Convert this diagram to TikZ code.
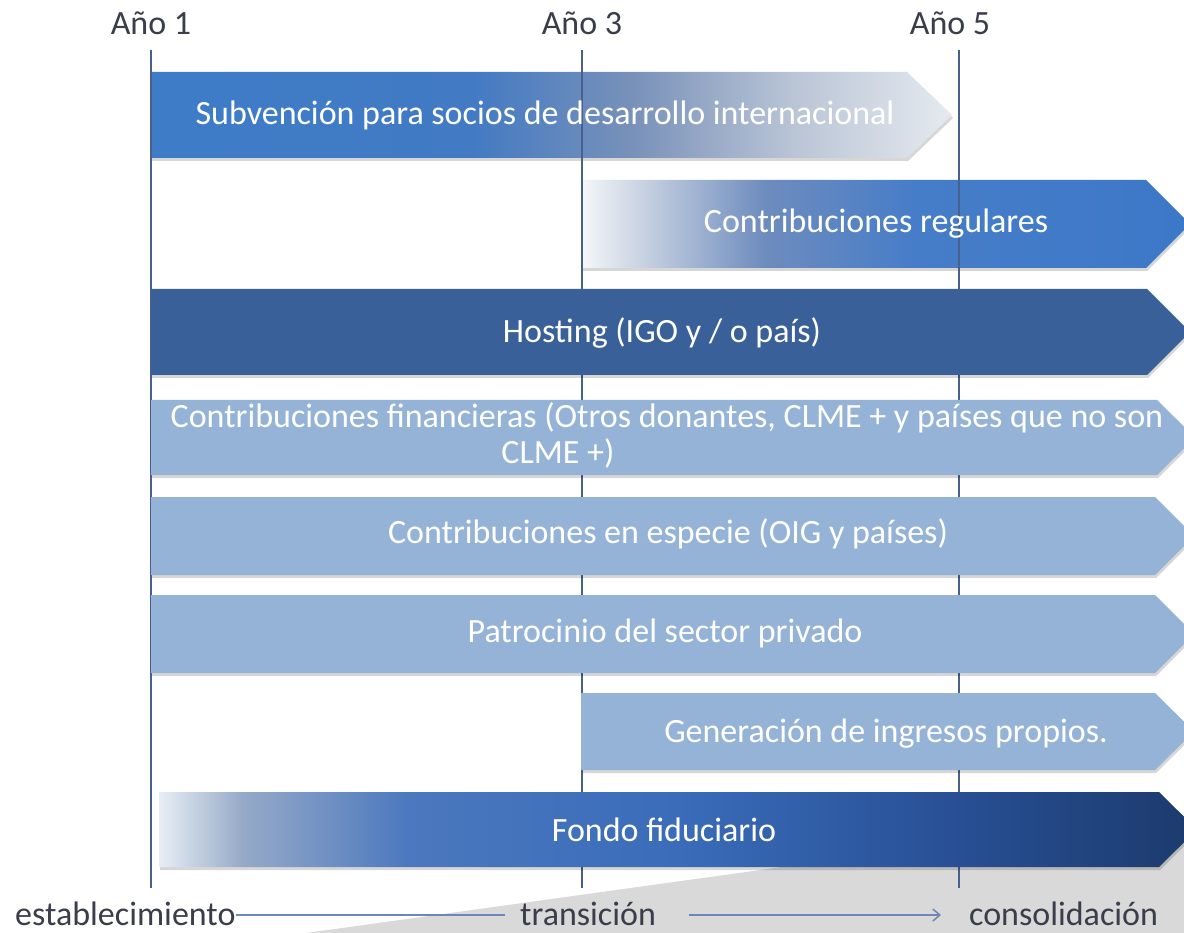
\documentclass[tikz,border=0pt]{standalone}
\usepackage{fontspec}
\setmainfont{Carlito}
\usetikzlibrary{arrows.meta}

\definecolor{vline}{RGB}{72,96,140}
\definecolor{hostc}{RGB}{57,96,152}
\definecolor{lightc}{RGB}{149,179,215}
\definecolor{labc}{RGB}{58,62,74}
\definecolor{connc}{RGB}{110,135,180}
\definecolor{grayc}{RGB}{217,217,217}

\definecolor{sA}{RGB}{62,124,200}
\definecolor{sB}{RGB}{66,122,195}
\definecolor{sC}{RGB}{120,145,185}
\definecolor{sD}{RGB}{185,196,213}
\definecolor{sE}{RGB}{230,234,240}
\pgfdeclarehorizontalshading{subvsh}{100bp}{color(0bp)=(sA); color(25bp)=(sA); color(45bp)=(sB); color(55bp)=(sC); color(65bp)=(sD); color(75bp)=(sE); color(100bp)=(sE)}

\definecolor{rA}{RGB}{245,247,250}
\definecolor{rB}{RGB}{200,210,225}
\definecolor{rC}{RGB}{110,140,190}
\definecolor{rD}{RGB}{70,125,200}
\definecolor{rE}{RGB}{60,120,200}
\pgfdeclarehorizontalshading{regush}{100bp}{color(0bp)=(rA); color(25bp)=(rA); color(30bp)=(rB); color(40bp)=(rC); color(52.5bp)=(rD); color(75bp)=(rE); color(100bp)=(rE)}

\definecolor{fA}{RGB}{232,238,245}
\definecolor{fB}{RGB}{150,170,200}
\definecolor{fC}{RGB}{75,120,190}
\definecolor{fD}{RGB}{58,108,185}
\definecolor{fE}{RGB}{40,80,150}
\definecolor{fF}{RGB}{28,58,108}
\pgfdeclarehorizontalshading{fondosh}{100bp}{color(0bp)=(fA); color(25bp)=(fA); color(29bp)=(fB); color(37bp)=(fC); color(50bp)=(fD); color(63bp)=(fE); color(75bp)=(fF); color(100bp)=(fF)}

\def\chev#1#2#3#4#5{(#1,#2) -- (#4,#2) -- (#5,{(#2+#3)/2}) -- (#4,#3) -- (#1,#3) -- cycle}

\tikzset{
  bartext/.style={text=white, font=\fontsize{34}{38}\selectfont, inner sep=0pt, anchor=base},
  axlabel/.style={text=labc, font=\fontsize{34}{38}\selectfont, inner sep=0pt, anchor=base},
  yearline/.style={draw=vline, line width=1.5pt},
  barshadow/.style={fill=black, opacity=0.16},
  connline/.style={draw=connc, line width=1.5pt}
}

\begin{document}
\begin{tikzpicture}[x=1pt,y=-1pt]
\useasboundingbox (0,0) rectangle (1184,933);
\fill[white] (0,0) rectangle (1184,933);

% gray page shadow
\fill[grayc] (306,933) -- (782,867) -- (1184,838) -- (1184,933) -- cycle;

% gradient bars behind the year lines
\fill[barshadow] [shift={(1,3)}] \chev{151}{72}{158}{907}{952};
\shade[shading=subvsh] \chev{151}{72}{158}{907}{952};
\fill[barshadow] [shift={(1,3)}] \chev{581}{180}{268}{1146}{1190};
\shade[shading=regush] \chev{581}{180}{268}{1146}{1190};

% year lines
\coordinate (l1t) at (151,50); \coordinate (l1b) at (151,888);
\coordinate (l3t) at (582,50); \coordinate (l3b) at (582,888);
\coordinate (l5t) at (959,50); \coordinate (l5b) at (959,888);
\draw[yearline] (l1t) -- (l1b);
\draw[yearline] (l3t) -- (l3b);
\draw[yearline] (l5t) -- (l5b);

% solid bars
\fill[barshadow] [shift={(1,3)}] \chev{151}{289}{375}{1147}{1190};
\fill[hostc] \chev{151}{289}{375}{1147}{1190};
\fill[barshadow] [shift={(1,3)}] \chev{151}{400}{475}{1157}{1195};
\fill[lightc] \chev{151}{400}{475}{1157}{1195};
\fill[barshadow] [shift={(1,3)}] \chev{151}{497}{575}{1155}{1194};
\fill[lightc] \chev{151}{497}{575}{1155}{1194};
\fill[barshadow] [shift={(1,3)}] \chev{151}{595}{673}{1155}{1194};
\fill[lightc] \chev{151}{595}{673}{1155}{1194};
\fill[barshadow] [shift={(1,3)}] \chev{581}{693}{770}{1155}{1194};
\fill[lightc] \chev{581}{693}{770}{1155}{1194};
\fill[barshadow] [shift={(1,3)}] \chev{159}{792}{867}{1159}{1197};
\shade[shading=fondosh] \chev{159}{792}{867}{1159}{1197};

% bar texts
\node[bartext] (subv) at (545,125) {Subvención para socios de desarrollo internacional};
\node[bartext] (regu) at (876,233) {Contribuciones regulares};
\node[bartext] (host) at (662,343) {Hosting (IGO y / o país)};
\node[bartext] (fin1) at (667,427) {Contribuciones financieras (Otros donantes, CLME + y países que no son};
\node[bartext] (fin2) at (558,463) {CLME +)};
\node[bartext] (espe) at (668,543) {Contribuciones en especie (OIG y países)};
\node[bartext] (patr) at (665,642) {Patrocinio del sector privado};
\node[bartext] (gene) at (886,742) {Generación de ingresos propios.};
\node[bartext] (fond) at (664,841) {Fondo fiduciario};

% year labels
\node[axlabel] (a1) at (151,35) {Año 1};
\node[axlabel] (a3) at (582,35) {Año 3};
\node[axlabel] (a5) at (950,35) {Año 5};

% phase labels
\node[axlabel, anchor=base west] (est) at (15,925) {establecimiento};
\node[axlabel, anchor=base west] (tra) at (520,925) {transición};
\node[axlabel, anchor=base west] (con) at (969,925) {consolidación};

\draw[connline] ([yshift=10pt]est.base east) -- ([xshift=-15pt,yshift=10pt]tra.base west);
\draw[connline, -{Straight Barb[length=7pt,width=12pt]}] ([xshift=33pt,yshift=10pt]tra.base east) -- ([xshift=-28pt,yshift=10pt]con.base west);
\end{tikzpicture}
\end{document}
